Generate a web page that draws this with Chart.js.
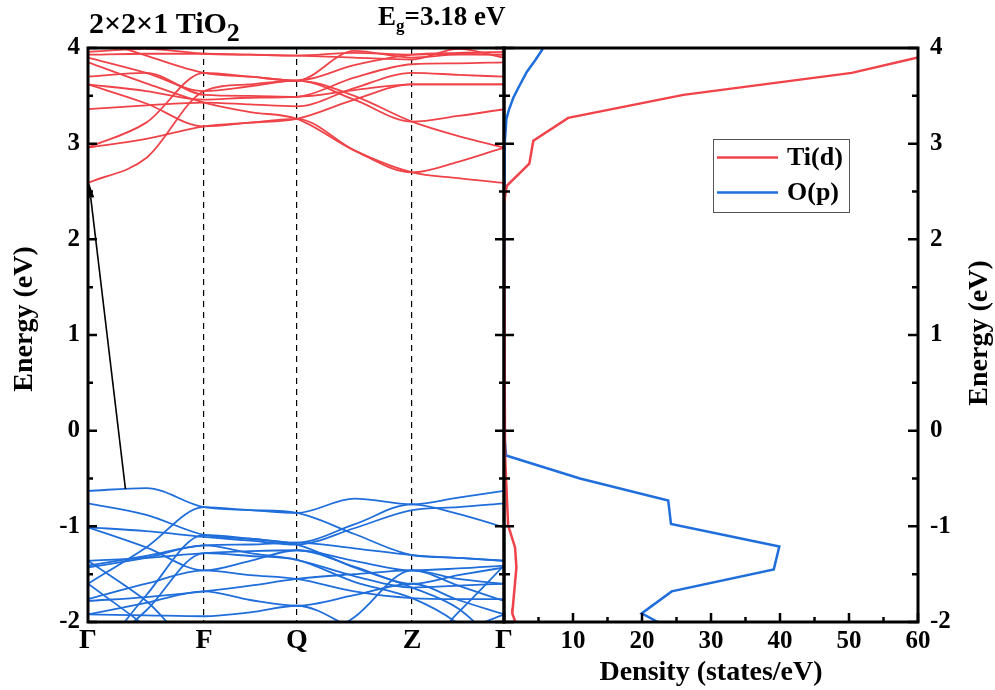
<!DOCTYPE html>
<html>
<head>
<meta charset="utf-8">
<script src="https://cdn.jsdelivr.net/npm/chart.js@4.4.1/dist/chart.umd.min.js"></script>
<style>
  html, body { margin: 0; padding: 0; background: #fff; }
  #wrap { position: relative; width: 995px; height: 690px; overflow: hidden; }
  #wrap canvas { position: absolute; left: 0; top: 0; }
</style>
</head>
<body>
<div id="wrap">
  <canvas id="bands" width="995" height="690"></canvas>
  <canvas id="dos" width="995" height="690"></canvas>
</div>
<script>
// ---- k-path (fractional path length) and high-symmetry labels ----
const kNodes = [0, 0.279, 0.502, 0.779, 1];
const kLabels = ['Γ', 'F', 'Q', 'Z', 'Γ'];
// sample points along the path: each node plus the middle of each segment
const kSamples = [0, 0.14, 0.279, 0.39, 0.502, 0.64, 0.779, 0.89, 1];

// ---- band energies (eV) at kSamples ----
const conductionBands = [
  [2.59, 2.85, 3.55, 3.62, 3.66, 3.50, 3.23, 3.08, 2.96],
  [2.96, 3.05, 3.18, 3.22, 3.26, 2.93, 2.70, 2.64, 2.59],
  [2.96, 3.22, 3.74, 3.70, 3.66, 3.97, 3.90, 3.93, 3.93],
  [3.36, 3.40, 3.43, 3.41, 3.39, 3.58, 3.74, 3.72, 3.70],
  [3.62, 3.42, 3.18, 3.22, 3.26, 3.46, 3.62, 3.62, 3.62],
  [3.62, 3.55, 3.46, 3.48, 3.49, 3.69, 3.83, 3.84, 3.85],
  [3.70, 3.74, 3.51, 3.50, 3.49, 3.56, 3.62, 3.62, 3.62],
  [3.85, 3.63, 3.43, 3.33, 3.26, 2.93, 2.70, 2.81, 2.96],
  [3.90, 3.74, 3.55, 3.60, 3.66, 3.46, 3.23, 3.29, 3.36],
  [3.93, 3.94, 3.94, 3.93, 3.92, 3.90, 3.88, 3.99, 3.90],
  [3.96, 3.99, 3.94, 3.93, 3.92, 3.95, 3.93, 3.94, 3.93],
  [4.12, 3.92, 3.74, 3.70, 3.66, 3.82, 3.93, 3.95, 3.96]
];
const valenceBands = [
  [-0.63, -0.60, -0.80, -0.83, -0.86, -0.71, -0.77, -0.70, -0.63],
  [-0.76, -0.88, -1.09, -1.13, -1.17, -0.98, -0.77, -0.87, -1.01],
  [-1.01, -1.05, -1.11, -1.15, -1.19, -1.02, -0.83, -0.80, -0.76],
  [-1.60, -1.22, -0.80, -0.83, -0.86, -1.08, -1.30, -1.33, -1.36],
  [-1.01, -1.22, -1.46, -1.36, -1.25, -1.36, -1.46, -1.44, -1.41],
  [-1.36, -1.33, -1.28, -1.26, -1.25, -1.42, -1.60, -1.51, -1.43],
  [-1.41, -1.31, -1.20, -1.19, -1.17, -1.23, -1.30, -1.33, -1.36],
  [-1.43, -1.33, -1.20, -1.28, -1.35, -1.52, -1.64, -1.62, -1.60],
  [-1.76, -1.60, -1.46, -1.51, -1.55, -1.68, -1.75, -1.76, -1.76],
  [-1.78, -1.74, -1.68, -1.62, -1.55, -1.50, -1.46, -1.62, -1.78],
  [-1.92, -1.80, -1.68, -1.77, -1.83, -1.72, -1.60, -1.77, -1.92],
  [-1.92, -1.93, -1.94, -1.90, -1.83, -2.08, -2.40, -2.12, -1.92],
  [-2.50, -1.72, -1.09, -1.13, -1.19, -1.43, -1.64, -1.86, -2.30],
  [-2.40, -1.88, -1.28, -1.31, -1.35, -1.58, -1.75, -2.02, -2.50],
  [-1.36, -1.78, -2.30, -2.22, -2.15, -2.25, -2.35, -1.90, -1.41],
  [-1.60, -2.05, -2.55, -2.40, -2.30, -1.95, -1.46, -1.55, -1.60]
];

// gap arrow: valence-band maximum -> conduction-band minimum [k, E]
const gapFrom = [0.09, -0.61];
const gapTo = [0, 2.59];

// ---- projected density of states ----
const tiEnergy  = [3.90, 3.74, 3.51, 3.27, 3.03, 2.79, 2.56, 2.37, -0.26, -0.99, -1.22, -1.43, -1.86, -1.91, -1.99, -2.00];
const tiDensity = [60.0, 50.4, 26.0, 9.3, 4.25, 3.67, 0.4, 0.0, 0.15, 0.6, 1.6, 1.8, 1.26, 1.2, 1.6, 1.7];
const oEnergy   = [4.00, 3.87, 3.75, 3.60, 3.48, 3.35, 3.26, 3.00, 2.00, 0.00, -0.26, -0.50, -0.73, -0.975, -1.21, -1.45, -1.68, -1.91, -2.00];
const oDensity  = [5.7, 4.5, 3.3, 2.2, 1.35, 0.7, 0.35, 0.1, 0.0, 0.0, 0.3, 11.0, 23.8, 24.2, 39.9, 39.1, 24.3, 19.95, 22.3];
const dosLabels = ['Ti(d)', 'O(p)'];

const energyRange = [-2, 4];
const densityRange = [0, 60];

const RED = '#EF4349';
const BLUE = '#1F6EDB';
const SERIF = '"Liberation Serif", "Times New Roman", serif';
const tickFont = { family: SERIF, size: 25, weight: 'bold' };

function bandDatasets(bands, color) {
  return bands.map(b => ({
    data: kSamples.map((k, i) => ({ x: k, y: b[i] })),
    showLine: true,
    borderColor: color,
    borderWidth: 1.8,
    pointRadius: 0,
    cubicInterpolationMode: 'monotone',
    fill: false
  }));
}

// frame and inward tick marks of a panel
const panelFrame = {
  id: 'panelFrame',
  afterDatasetsDraw(chart, args, o) {
    const { ctx, chartArea: a, scales } = chart;
    const ys = scales.y, xs = scales.x;
    ctx.save();
    ctx.strokeStyle = '#000';
    ctx.lineWidth = 2.5;
    ctx.beginPath();
    for (let v = ys.min; v <= ys.max + 1e-9; v += 0.5) {
      const y = ys.getPixelForValue(v);
      const len = Number.isInteger(v) ? o.yMajor : o.yMinor;
      if (o.left) { ctx.moveTo(a.left, y); ctx.lineTo(a.left + len, y); }
      if (o.right) { ctx.moveTo(a.right, y); ctx.lineTo(a.right - len, y); }
    }
    if (o.xStep) {
      for (let v = xs.min; v <= xs.max + 1e-9; v += o.xStep / 2) {
        const x = xs.getPixelForValue(v);
        const len = (v % o.xStep === 0) ? o.xMajor : o.xMinor;
        ctx.moveTo(x, a.bottom); ctx.lineTo(x, a.bottom - len);
      }
    }
    ctx.stroke();
    ctx.lineWidth = 3;
    ctx.strokeRect(a.left, a.top, a.width, a.height);
    ctx.restore();
  }
};

// axis titles and headings
function drawRotated(ctx, text, x, y) {
  ctx.save();
  ctx.translate(x, y);
  ctx.rotate(-Math.PI / 2);
  ctx.textAlign = 'center';
  ctx.textBaseline = 'middle';
  ctx.fillText(text, 0, 0);
  ctx.restore();
}

const bandDecor = {
  id: 'bandDecor',
  afterDraw(chart) {
    const { ctx, chartArea: a, scales } = chart;
    const xs = scales.x, ys = scales.y;
    // gap arrow
    const x0 = xs.getPixelForValue(gapFrom[0]), y0 = ys.getPixelForValue(gapFrom[1]);
    const x1 = xs.getPixelForValue(gapTo[0]) + 1, y1 = ys.getPixelForValue(gapTo[1]);
    ctx.save();
    ctx.strokeStyle = '#000';
    ctx.fillStyle = '#000';
    ctx.lineWidth = 1.6;
    const ang = Math.atan2(y1 - y0, x1 - x0);
    const L = 15, W = 3.5;
    const bx = x1 - L * Math.cos(ang), by = y1 - L * Math.sin(ang);
    ctx.beginPath(); ctx.moveTo(x0, y0); ctx.lineTo(bx, by); ctx.stroke();
    ctx.beginPath();
    ctx.moveTo(x1, y1);
    ctx.lineTo(bx + W * Math.sin(ang), by - W * Math.cos(ang));
    ctx.lineTo(bx - W * Math.sin(ang), by + W * Math.cos(ang));
    ctx.closePath(); ctx.fill();

    // left axis title
    ctx.font = 'bold 28px ' + SERIF;
    drawRotated(ctx, 'Energy (eV)', 25, (a.top + a.bottom) / 2 - 16);

    // heading: 2×2×1 TiO2
    ctx.textAlign = 'left';
    ctx.textBaseline = 'alphabetic';
    ctx.font = 'bold 30px ' + SERIF;
    const main = '2×2×1 TiO';
    ctx.fillText(main, 89, 33);
    const w = ctx.measureText(main).width;
    ctx.font = 'bold 26px ' + SERIF;
    ctx.fillText('2', 89 + w, 41);

    // band gap note: Eg=3.18 eV
    ctx.font = 'bold 27px ' + SERIF;
    ctx.fillText('E', 378, 25);
    let x = 378 + ctx.measureText('E').width;
    ctx.font = 'bold 17px ' + SERIF;
    ctx.fillText('g', x, 31);
    x += ctx.measureText('g').width;
    ctx.font = 'bold 27px ' + SERIF;
    ctx.fillText('=3.18 eV', x, 25);
    ctx.restore();
  }
};

const dosDecor = {
  id: 'dosDecor',
  afterDraw(chart) {
    const { ctx, chartArea: a } = chart;
    ctx.save();
    ctx.fillStyle = '#000';
    ctx.font = 'bold 28px ' + SERIF;
    drawRotated(ctx, 'Energy (eV)', 980, (a.top + a.bottom) / 2 - 2);
    ctx.textAlign = 'center';
    ctx.textBaseline = 'alphabetic';
    ctx.fillText('Density (states/eV)', (a.left + a.right) / 2, 680);

    // legend
    const lx = 713, ly = 139, lw = 136, lh = 73;
    ctx.fillStyle = '#fff';
    ctx.fillRect(lx, ly, lw, lh);
    ctx.strokeStyle = '#555';
    ctx.lineWidth = 1;
    ctx.strokeRect(lx + 0.5, ly + 0.5, lw, lh);
    ctx.font = 'bold 26px ' + SERIF;
    ctx.textAlign = 'left';
    ctx.textBaseline = 'middle';
    chart.data.datasets.forEach((ds, i) => {
      const y = ly + 18.5 + i * 35;
      ctx.strokeStyle = ds.borderColor;
      ctx.lineWidth = 2.5;
      ctx.beginPath(); ctx.moveTo(lx + 4, y); ctx.lineTo(lx + 65, y); ctx.stroke();
      ctx.fillStyle = '#000';
      ctx.fillText(ds.label, lx + 74, y + 1);
    });
    ctx.restore();
  }
};

// ---- left panel: band structure ----
new Chart(document.getElementById('bands'), {
  type: 'scatter',
  data: {
    datasets: [
      ...bandDatasets(conductionBands, RED),
      ...bandDatasets(valenceBands, BLUE)
    ]
  },
  options: {
    responsive: false,
    animation: false,
    devicePixelRatio: 1,
    events: [],
    layout: { padding: { top: 48, right: 491, left: 0, bottom: 0 } },
    plugins: {
      legend: { display: false },
      tooltip: { enabled: false },
      panelFrame: { left: true, right: true, yMajor: 9, yMinor: 5 }
    },
    scales: {
      x: {
        type: 'linear',
        min: 0, max: 1,
        afterBuildTicks: s => { s.ticks = kNodes.map(v => ({ value: v })); },
        afterFit: s => { s.height = 68; },
        ticks: {
          autoSkip: false, maxRotation: 0, padding: 2,
          color: '#000',
          font: { family: SERIF, size: 28, weight: 'bold' },
          callback: (v, i) => kLabels[i]
        },
        grid: {
          drawTicks: false,
          lineWidth: 1.2,
          color: c => (c.tick && (c.tick.value === kNodes[0] || c.tick.value === kNodes[kNodes.length - 1])) ? 'rgba(0,0,0,0)' : '#000'
        },
        border: { display: false, dash: [6, 5] }
      },
      y: {
        type: 'linear',
        min: energyRange[0], max: energyRange[1],
        afterFit: s => { s.width = 88; },
        ticks: { stepSize: 1, padding: 8, color: '#000', font: tickFont },
        grid: { display: false, drawTicks: false },
        border: { display: false }
      }
    }
  },
  plugins: [panelFrame, bandDecor]
});

// ---- right panel: density of states ----
new Chart(document.getElementById('dos'), {
  type: 'scatter',
  data: {
    datasets: [
      {
        label: dosLabels[0],
        data: tiEnergy.map((e, i) => ({ x: tiDensity[i], y: e })),
        showLine: true, borderColor: RED, borderWidth: 2.5, pointRadius: 0, tension: 0
      },
      {
        label: dosLabels[1],
        data: oEnergy.map((e, i) => ({ x: oDensity[i], y: e })),
        showLine: true, borderColor: BLUE, borderWidth: 2.5, pointRadius: 0, tension: 0
      }
    ]
  },
  options: {
    responsive: false,
    animation: false,
    devicePixelRatio: 1,
    events: [],
    layout: { padding: { top: 48, left: 504, right: 0, bottom: 0 } },
    plugins: {
      legend: { display: false },
      tooltip: { enabled: false },
      panelFrame: { left: true, right: true, yMajor: 10, yMinor: 6, xStep: 10, xMajor: 9, xMinor: 5 }
    },
    scales: {
      x: {
        type: 'linear',
        min: densityRange[0], max: densityRange[1],
        afterFit: s => { s.height = 68; },
        ticks: {
          stepSize: 10, padding: 5, color: '#000', font: tickFont,
          callback: v => (v === 0 ? '' : String(v))
        },
        grid: { display: false, drawTicks: false },
        border: { display: false }
      },
      y: {
        type: 'linear',
        position: 'right',
        min: energyRange[0], max: energyRange[1],
        afterFit: s => { s.width = 77; },
        ticks: { stepSize: 1, padding: 12, color: '#000', font: tickFont },
        grid: { display: false, drawTicks: false },
        border: { display: false }
      }
    }
  },
  plugins: [panelFrame, dosDecor]
});
</script>
</body>
</html>
